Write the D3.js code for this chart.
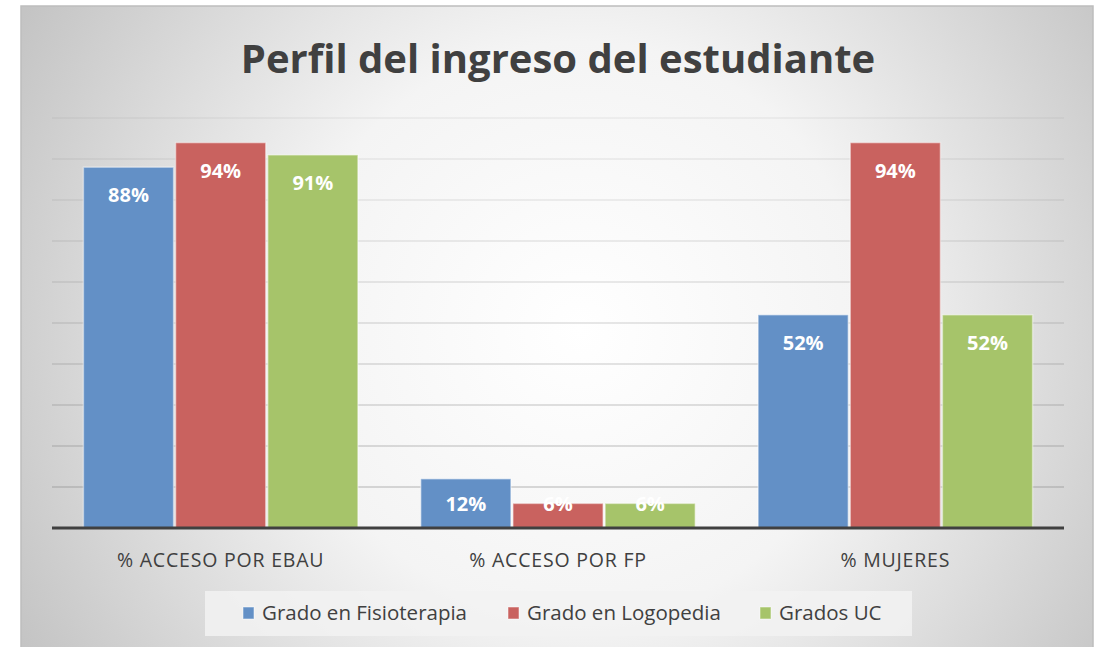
<!DOCTYPE html>
<html>
<head>
<meta charset="utf-8">
<script src="https://cdn.jsdelivr.net/npm/d3@7"></script>
<style>
  body { margin: 0; background: #fff; }
  svg { display: block; }
</style>
</head>
<body>
<svg width="1095" height="647"></svg>
<script>
var svg = d3.select("svg");

var categories = ["% ACCESO POR EBAU", "% ACCESO POR FP", "% MUJERES"];
var seriesNames = ["Grado en Fisioterapia", "Grado en Logopedia", "Grados UC"];
var fisioterapia = [88, 12, 52];
var logopedia = [94, 6, 94];
var gradosUC = [91, 6, 52];
var yTicks = [0, 10, 20, 30, 40, 50, 60, 70, 80, 90, 100];

var seriesValues = [fisioterapia, logopedia, gradosUC];
var colors = ["#6390c6", "#c9625f", "#a6c46a"];

// background with radial gradient
var defs = svg.append("defs");
var grad = defs.append("radialGradient")
    .attr("id", "bg")
    .attr("gradientUnits", "userSpaceOnUse")
    .attr("cx", 580).attr("cy", 330).attr("r", 640);
grad.append("stop").attr("offset", "0%").attr("stop-color", "#ffffff");
grad.append("stop").attr("offset", "45%").attr("stop-color", "#f4f4f4");
grad.append("stop").attr("offset", "100%").attr("stop-color", "#c4c4c4");

svg.append("rect")
    .attr("x", 21).attr("y", 6)
    .attr("width", 1072).attr("height", 650)
    .attr("fill", "url(#bg)")
    .attr("stroke", "#bdbdbd")
    .attr("stroke-width", 1.5);

var left = 52, right = 1064;

var x0 = d3.scaleBand()
    .domain(categories)
    .range([left, right]);

var x1 = d3.scaleBand()
    .domain(seriesNames)
    .range([0, x0.bandwidth()])
    .paddingOuter(0.33);

var y = d3.scaleLinear()
    .domain([0, 100])
    .range([528, 118]);

// gridlines
svg.append("g")
    .selectAll("line")
    .data(yTicks.slice(1))
    .enter().append("line")
    .attr("x1", left).attr("x2", right)
    .attr("y1", function (d) { return y(d); })
    .attr("y2", function (d) { return y(d); })
    .attr("stroke", "#7f7f7f")
    .attr("stroke-opacity", function (d) { return 0.6 - d * 0.0045; })
    .attr("stroke-width", 1.2);

// bars
var group = svg.append("g")
    .selectAll("g")
    .data(categories)
    .enter().append("g")
    .attr("transform", function (d) { return "translate(" + x0(d) + ",0)"; });

function rows(d, i) {
    return seriesNames.map(function (s, j) { return { s: s, j: j, v: seriesValues[j][i] }; });
}

group.selectAll("rect")
    .data(rows)
    .enter().append("rect")
    .attr("x", function (d) { return x1(d.s) + 1; })
    .attr("width", x1.bandwidth() - 2)
    .attr("y", function (d) { return y(d.v); })
    .attr("height", function (d) { return y(0) - y(d.v); })
    .attr("fill", function (d) { return colors[d.j]; })
    .attr("stroke", "#ffffff")
    .attr("stroke-opacity", 0.45)
    .attr("stroke-width", 1.5);

group.selectAll("text")
    .data(rows)
    .enter().append("text")
    .attr("x", function (d) { return x1(d.s) + x1.bandwidth() / 2; })
    .attr("y", function (d) { return Math.min(y(d.v) + 35, y(0) - 17); })
    .attr("text-anchor", "middle")
    .attr("font-family", "Open Sans")
    .attr("font-weight", "bold")
    .attr("font-size", 20)
    .attr("fill", "#ffffff")
    .text(function (d) { return d.v + "%"; });

// baseline axis
svg.append("line")
    .attr("x1", left).attr("x2", right)
    .attr("y1", y(0)).attr("y2", y(0))
    .attr("stroke", "#404040")
    .attr("stroke-width", 3);

// category labels
svg.append("g")
    .selectAll("text")
    .data(categories)
    .enter().append("text")
    .attr("x", function (d) { return x0(d) + x0.bandwidth() / 2; })
    .attr("y", 567)
    .attr("text-anchor", "middle")
    .attr("font-family", "Open Sans")
    .attr("font-size", 19.5)
    .attr("letter-spacing", 0.8)
    .attr("fill", "#404040")
    .text(function (d) { return d; });

// title
svg.append("text")
    .attr("x", 558)
    .attr("y", 73)
    .attr("text-anchor", "middle")
    .attr("font-family", "Open Sans")
    .attr("font-weight", "bold")
    .attr("font-size", 40)
    .attr("fill", "#404040")
    .text("Perfil del ingreso del estudiante");

// legend
svg.append("rect")
    .attr("x", 205).attr("y", 591)
    .attr("width", 707).attr("height", 45)
    .attr("fill", "#f2f2f2")
    .attr("fill-opacity", 0.85);

var legendX = [243, 508, 760];
var legend = svg.append("g")
    .selectAll("g")
    .data(seriesNames)
    .enter().append("g")
    .attr("transform", function (d, i) { return "translate(" + legendX[i] + ",607)"; });

legend.append("rect")
    .attr("width", 11).attr("height", 12)
    .attr("fill", function (d, i) { return colors[i]; })
    .attr("stroke", "#ffffff")
    .attr("stroke-opacity", 0.5);

legend.append("text")
    .attr("x", 19)
    .attr("y", 13)
    .attr("font-family", "Open Sans")
    .attr("font-size", 20.5)
    .attr("fill", "#404040")
    .text(function (d) { return d; });
</script>
</body>
</html>
